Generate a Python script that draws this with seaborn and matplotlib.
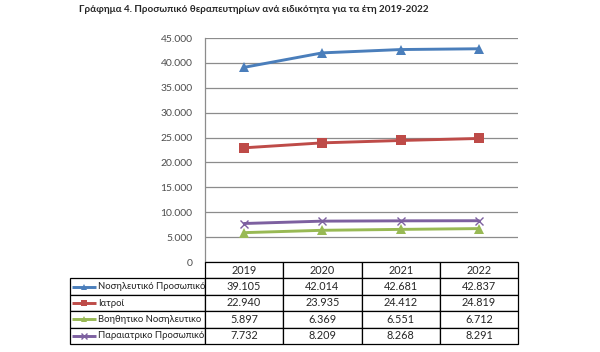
import numpy as np
import pandas as pd
import seaborn as sns
import matplotlib.pyplot as plt

years = ["2019", "2020", "2021", "2022"]
series_names = [
    "Νοσηλευτικό Προσωπικό",
    "Ιατροί",
    "Βοηθητικο Νοσηλευτικο",
    "Παραιατρικο Προσωπικό",
]
nursing = [39105, 42014, 42681, 42837]
doctors = [22940, 23935, 24412, 24819]
aux_nursing = [5897, 6369, 6551, 6712]
paramedical = [7732, 8209, 8268, 8291]
series_values = [nursing, doctors, aux_nursing, paramedical]
colors = ["#4A7EBB", "#BE4B48", "#98B954", "#7D60A0"]
markers = ["^", "s", "^", "x"]
title = "Γράφημα 4. Προσωπικό θεραπευτηρίων ανά ειδικότητα για τα έτη 2019-2022"


def fmt(v):
    return f"{v:,.0f}".replace(",", ".")


sns.set_style("white")
plt.rcParams["font.family"] = ["Lato", "DejaVu Sans"]

W, H = 600, 352
fig = plt.figure(figsize=(W / 100, H / 100), dpi=100)

# plot area (pixel layout of the reference)
left, right, top, bottom = 205, 518, 38, 262
ax = fig.add_axes([left / W, 1 - bottom / H, (right - left) / W, (bottom - top) / H])

long = pd.DataFrame(
    [(i, v, name) for name, vals in zip(series_names, series_values) for i, v in enumerate(vals)],
    columns=["pos", "value", "series"],
)
for name, color, mk in zip(series_names, colors, markers):
    sub = long[long["series"] == name]
    sns.lineplot(
        data=sub, x="pos", y="value", ax=ax, color=color, marker=mk,
        markersize=6.5 if mk != "x" else 6, markeredgewidth=1.0 if mk == "x" else 0,
        markeredgecolor=color, linewidth=2.1, legend=False, zorder=3,
    )

ax.set_xlim(-0.5, len(years) - 0.5)
ax.set_ylim(0, 45000)
ax.set_yticks(np.arange(0, 45001, 5000))
ax.set_yticklabels([fmt(v) for v in np.arange(0, 45001, 5000)], fontsize=7.5, color="#4D4D4D")
ax.set_xticks([])
ax.set_xlabel("")
ax.set_ylabel("")
ax.tick_params(axis="y", length=0, pad=9)
ax.grid(axis="y", color="#8C8C8C", linewidth=0.9)
ax.set_axisbelow(True)
for s in ["top", "right", "bottom"]:
    ax.spines[s].set_visible(False)
ax.spines["left"].set_color("#8C8C8C")
ax.spines["left"].set_linewidth(0.9)

fig.text(254 / W, 1 - 9 / H, title, ha="center", va="center", fontsize=7.1, fontweight="bold")

# data table below the chart
t_left, t_right, t_top, t_bottom = 70, 518, 262, 344
tax = fig.add_axes([t_left / W, 1 - t_bottom / H, (t_right - t_left) / W, (t_bottom - t_top) / H])
tax.axis("off")
tw = t_right - t_left
label_w = left - t_left
col_w = (tw - label_w) / len(years)
cell_text = [[""] + years] + [[""] + [fmt(v) for v in vals] for vals in series_values]
tbl = tax.table(
    cellText=cell_text,
    colWidths=[label_w / tw] + [col_w / tw] * len(years),
    cellLoc="center",
    bbox=[0, 0, 1, 1],
)
tbl.auto_set_font_size(False)
for (r, c), cell in tbl.get_celld().items():
    cell.set_linewidth(0.9)
    cell.set_edgecolor("#000000")
    cell.get_text().set_fontsize(7.8)
    if r == 0 and c == 0:
        cell.visible_edges = ""

n_rows = len(series_names) + 1
for i, (name, color, mk) in enumerate(zip(series_names, colors, markers)):
    yc = 1 - (i + 1.5) / n_rows
    tax.plot([2 / tw, 26 / tw], [yc, yc], color=color, linewidth=2.1,
             transform=tax.transAxes, clip_on=False, solid_capstyle="butt")
    tax.plot([14 / tw], [yc], marker=mk, color=color, markersize=5,
             markeredgewidth=1.0 if mk == "x" else 0, markeredgecolor=color,
             transform=tax.transAxes, clip_on=False)
    tax.text(28 / tw, yc, name, transform=tax.transAxes, ha="left", va="center",
             fontsize=6.8, color="#222222")

fig.savefig("out.png", dpi=100)
